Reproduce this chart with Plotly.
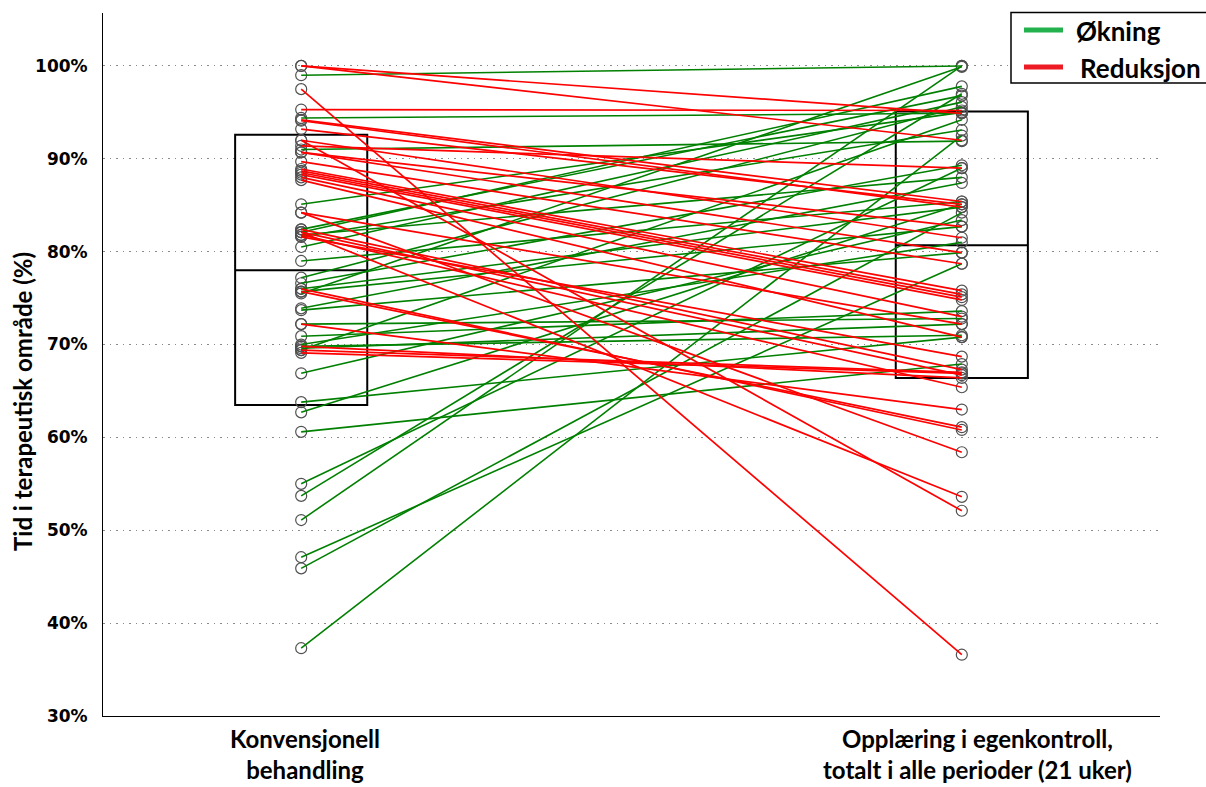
import plotly.graph_objects as go

# ---- data (percent) ----
category_lines = [["Konvensjonell", "behandling"],
                  ["Opplæring i egenkontroll,", "totalt i alle perioder (21 uker)"]]

increase_before = [99.0, 94.4, 91.0, 85.1, 82.4, 82.1, 81.8, 81.6, 80.5, 79.0, 77.2, 76.6,
                   76.0, 75.7, 75.5, 73.9, 73.7, 72.2, 70.9, 69.8, 69.4, 66.9, 63.8, 62.7,
                   60.6, 55.0, 53.7, 51.1, 47.1, 45.9, 37.3, 70.0, 69.6]
increase_after = [100.0, 94.9, 91.9, 95.0, 96.8, 97.8, 88.0, 93.1, 96.1, 85.4, 95.6, 89.3,
                  84.8, 82.7, 99.9, 87.4, 79.9, 72.8, 73.6, 71.0, 94.2, 83.4, 70.8, 85.1,
                  67.9, 89.0, 97.0, 100.0, 78.7, 84.2, 92.5, 81.0, 72.2]

decrease_before = [100.0, 100.0, 97.5, 95.3, 94.2, 94.1, 93.2, 92.0, 90.7, 89.7, 88.9, 88.7,
                   88.5, 88.3, 88.0, 87.7, 84.2, 82.4, 82.1, 81.8, 81.6, 75.7, 76.0, 84.2,
                   82.1, 92.0, 72.2, 69.8, 69.4, 69.1, 91.4, 90.7]
decrease_after = [94.9, 92.0, 36.6, 95.2, 85.4, 84.8, 85.1, 81.5, 79.9, 78.7, 75.8, 75.4,
                  75.1, 74.8, 73.0, 70.8, 72.2, 67.3, 66.7, 65.4, 68.7, 61.1, 60.8, 58.4,
                  53.6, 52.1, 63.0, 66.4, 67.0, 66.9, 89.0, 82.7]

box_q1 = [63.5, 66.4]
box_median = [78.0, 80.7]
box_q3 = [92.6, 95.1]

legend_labels = ["Økning", "Reduksjon"]
y_ticks = [30, 40, 50, 60, 70, 80, 90, 100]

# ---- styles ----
GREEN = "#008000"
RED = "#ff0000"
LEG_GREEN = "#22b14c"
LEG_RED = "#ed1c24"

W, H = 1206, 787
ML, MR, MT, MB = 103, 46, 13, 71
PW, PH = W - ML - MR, H - MT - MB


def px_x(x):
    return (x - ML) / PW


def px_y(y):
    return (H - MB - y) / PH


fig = go.Figure()

# boxes (no whiskers)
for i in range(2):
    fig.add_trace(go.Box(
        x=[i], q1=[box_q1[i]], median=[box_median[i]], q3=[box_q3[i]],
        lowerfence=[box_q1[i]], upperfence=[box_q3[i]],
        width=0.2, fillcolor="rgba(0,0,0,0)", line=dict(color="black", width=2),
        whiskerwidth=0, showlegend=False, hoverinfo="skip", boxpoints=False,
    ))


def seg(before, after):
    xs, ys = [], []
    for b, a in zip(before, after):
        xs += [0, 1, None]
        ys += [b, a, None]
    return xs, ys


gx, gy = seg(increase_before, increase_after)
rx, ry = seg(decrease_before, decrease_after)

mx = [0] * len(increase_before) + [1] * len(increase_after) + [0] * len(decrease_before) + [1] * len(decrease_after)
my = increase_before + increase_after + decrease_before + decrease_after
fig.add_trace(go.Scatter(x=mx, y=my, mode="markers",
                         marker=dict(symbol="circle-open", size=11, color="#505050", line=dict(width=1.2)),
                         showlegend=False, hoverinfo="skip"))

fig.add_trace(go.Scatter(x=gx, y=gy, mode="lines", line=dict(color=GREEN, width=1.6),
                         showlegend=False, hoverinfo="skip"))
fig.add_trace(go.Scatter(x=rx, y=ry, mode="lines", line=dict(color=RED, width=1.7),
                         showlegend=False, hoverinfo="skip"))

fig.update_layout(
    width=W, height=H,
    margin=dict(l=ML, r=MR, t=MT, b=MB),
    paper_bgcolor="white", plot_bgcolor="white",
    showlegend=False,
)

fig.update_xaxes(
    range=[-0.3, 1.3], tickvals=[0, 1], ticktext=["", ""],
    showgrid=False, zeroline=False, showline=True, linecolor="black", linewidth=1,
    ticks="",
)
fig.update_yaxes(
    range=[30, 105.7], tickvals=y_ticks, ticktext=[f"{v}%" for v in y_ticks],
    showgrid=True, gridcolor="#8a8a8a", griddash="1.5px,5px", gridwidth=1.2,
    zeroline=False, showline=True, linecolor="black", linewidth=1,
    ticks="", ticklabelstandoff=11,
    tickfont=dict(family="DejaVu Sans", size=17, color="black", weight="bold"),
)

# axis title
fig.add_annotation(
    text="Tid i terapeutisk område (%)", textangle=-90,
    xref="paper", yref="paper", x=px_x(22), y=px_y(402), xanchor="center", yanchor="middle",
    showarrow=False, font=dict(family="Lato", size=24, color="black", weight="bold"),
)

# category labels (two lines each)
label_centers = [305, 977]
for cx, lines in zip(label_centers, category_lines):
    fig.add_annotation(text="<br>".join(lines), xref="paper", yref="paper",
                       x=px_x(cx), y=px_y(786), xanchor="center", yanchor="bottom",
                       align="center", showarrow=False,
                       font=dict(family="Lato", size=24, color="black", weight="bold"))

# legend (drawn manually, clipped at right edge like the reference)
fig.add_shape(type="rect", xref="paper", yref="paper",
              x0=px_x(1011), x1=px_x(1260), y0=px_y(83), y1=px_y(12.5),
              line=dict(color="black", width=1.5), fillcolor="white", layer="above")
leg_cols = [LEG_GREEN, LEG_RED]
leg_y = [30, 67]
leg_tx = [1074, 1078]
for lab, col, ly, tx in zip(legend_labels, leg_cols, leg_y, leg_tx):
    fig.add_shape(type="line", xref="paper", yref="paper",
                  x0=px_x(1024), x1=px_x(1063), y0=px_y(ly), y1=px_y(ly),
                  line=dict(color=col, width=5), layer="above")
    fig.add_annotation(text=lab, xref="paper", yref="paper", x=px_x(tx), y=px_y(ly + 1),
                       xanchor="left", yanchor="middle", showarrow=False,
                       font=dict(family="Lato", size=26, color="black", weight="bold"))

fig.write_html("out.html", config={"displayModeBar": False},
               post_script="document.body.style.margin='0';")
